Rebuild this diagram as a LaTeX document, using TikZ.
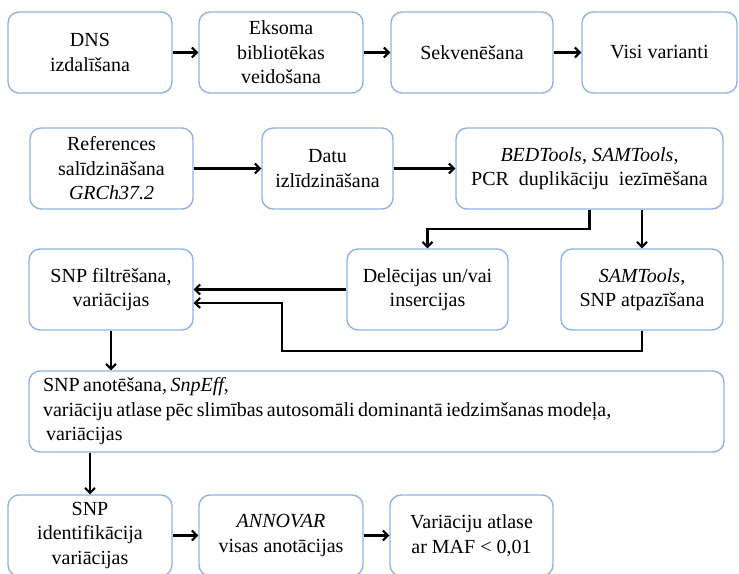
\documentclass[tikz,border=0pt]{standalone}
\usepackage{fontspec}
\setmainfont{Liberation Serif}
\usetikzlibrary{arrows.meta}
\definecolor{boxblue}{HTML}{8EB4E3}

\begin{document}
\begin{tikzpicture}[x=1pt, y=-1pt,
  blk/.style={draw=boxblue, line width=1.4pt, rounded corners=11pt, fill=white,
    align=center, minimum height=81pt, inner sep=2pt,
    font=\fontsize{20}{24.5}\selectfont},
  arr/.style={-{Straight Barb[length=5pt, width=10pt]}, line width=2.1pt}]

\useasboundingbox (0,0) rectangle (739,573);
\clip (0,0) rectangle (739,573);

% Row 1
\node[blk, minimum width=164pt] (dns) at (90,52.5) {DNS\\izdalīšana};
\node[blk, minimum width=164pt] (eks) at (281,52.5) {Eksoma\\bibliotēkas\\veidošana};
\node[blk, minimum width=162pt] (sekv) at (472,52.5) {Sekvenēšana};
\node[blk, minimum width=155pt] (visi) at (659.5,52.5) {Visi varianti};

% Row 2
\node[blk, minimum width=163pt] (ref) at (111.5,168.5) {References\\salīdzināšana\\\textit{GRCh37.2}};
\node[blk, minimum width=131pt] (datu) at (327.5,168.5) {Datu\\izlīdzināšana};
\node[blk, minimum width=267pt] (bed) at (589.5,168.5) {\textit{BEDTools}, \textit{SAMTools},\\PCR\ \ duplikāciju\ \ iezīmēšana};

% Row 3
\node[blk, minimum width=164pt] (filt) at (111,289.5) {SNP filtrēšana,\\variācijas};
\node[blk, minimum width=161pt] (del) at (427.5,289.5) {Delēcijas un/vai\\insercijas};
\node[blk, minimum width=162pt] (sam) at (642,289.5) {\textit{SAMTools},\\SNP atpazīšana};

% Annotation box
\node[blk, text width=667pt, align=left, inner xsep=14pt] (ann) at (376.5,411.5)
  {\spaceskip=3.5pt plus 1pt SNP anotēšana, \textit{SnpEff},\\variāciju atlase pēc slimības autosomāli dominantā iedzimšanas modeļa,\\\hspace*{3pt}variācijas};

% Row 5
\node[blk, minimum width=164pt] (ident) at (90,535.5) {SNP\\identifikācija\\variācijas};
\node[blk, minimum width=164pt] (annov) at (281,535.5) {\textit{ANNOVAR}\\visas anotācijas};
\node[blk, minimum width=163pt] (maf) at (471.5,535.5) {Variāciju atlase\\ar MAF < 0,01};

% Connectors
\draw[arr] (dns) -- (eks);
\draw[arr] (eks) -- (sekv);
\draw[arr] (sekv) -- (visi);
\draw[arr] (ref) -- (datu);
\draw[arr] (datu) -- (bed);
\draw[arr] (bed.south) -- ++(0,19) -| (del.north);
\draw[arr] (sam.north |- bed.south) -- (sam.north);
\draw[arr] (del) -- (filt);
\coordinate (loop) at (282,351);
\draw[arr] (sam.south) |- (loop) |- ([yshift=-13.5pt]filt.east);
\draw[arr] (filt.south) -- (filt.south |- ann.north);
\draw[arr] (ident.north |- ann.south) -- (ident.north);
\draw[arr] (ident) -- (annov);
\draw[arr] (annov) -- (maf);

\end{tikzpicture}
\end{document}
